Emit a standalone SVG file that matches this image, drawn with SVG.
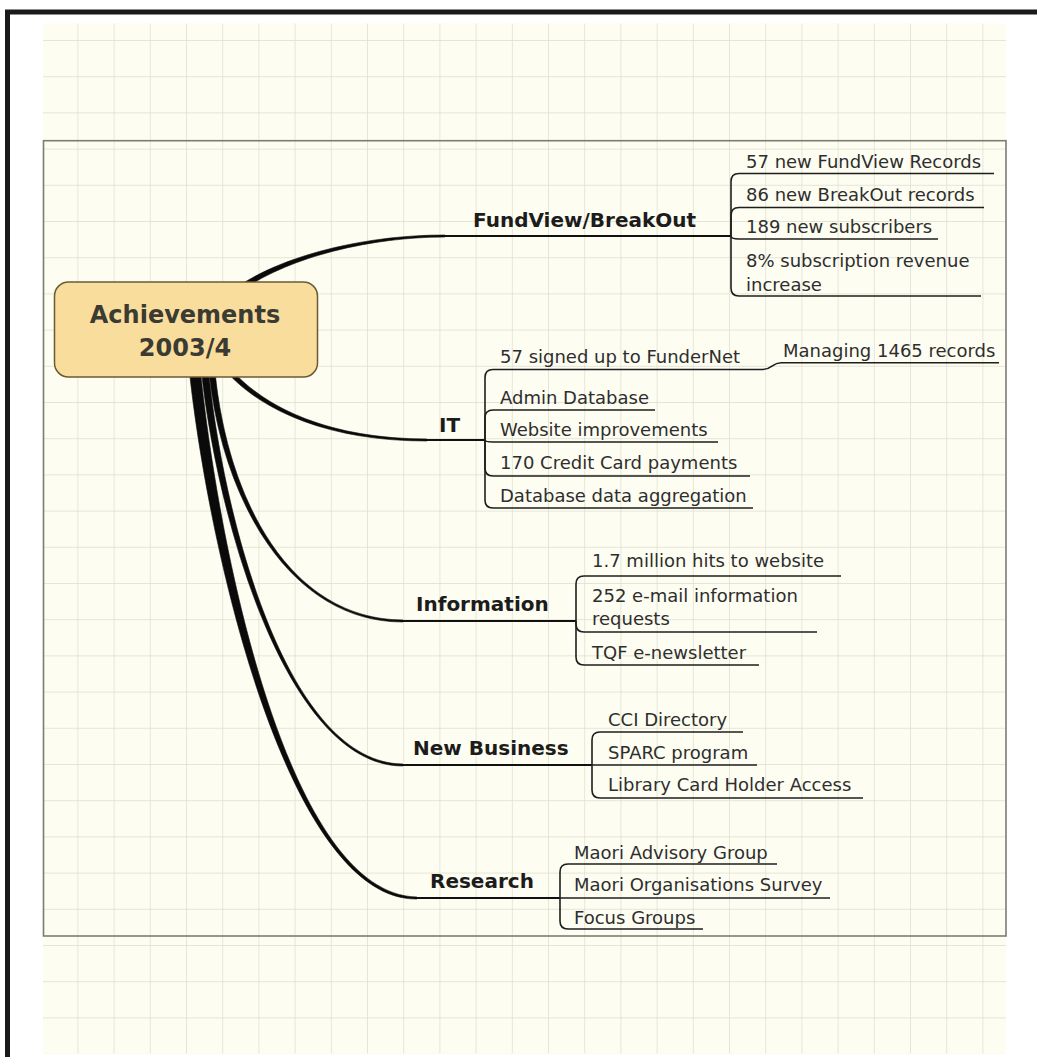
<svg xmlns="http://www.w3.org/2000/svg" width="1037" height="1057" viewBox="0 0 1037 1057">
<defs>
<pattern id="grid" patternUnits="userSpaceOnUse" x="41.2" y="40" width="36.2" height="36.2">
<rect width="36.2" height="36.2" fill="#fdfdf1"/>
<path d="M0,0 H36.2 M0,0 V36.2" stroke="#dedecf" stroke-width="1.4" fill="none"/>
</pattern>
</defs>
<style>
.sub{font-family:"DejaVu Sans","Liberation Sans",sans-serif;font-size:18px;fill:#2e2e2e}
.lab{font-family:"DejaVu Sans","Liberation Sans",sans-serif;font-size:20px;font-weight:bold;fill:#1c1c1c}
.ctr{font-family:"DejaVu Sans","Liberation Sans",sans-serif;font-size:24px;font-weight:bold;fill:#3b3a33;text-anchor:middle}
.ln{fill:none;stroke:#1e1e1e;stroke-width:1.6}
.lb{fill:none;stroke:#111;stroke-width:2}
.br{fill:#0a0a0a;stroke:#0a0a0a;stroke-width:0.6}
</style>
<rect width="1037" height="1057" fill="#ffffff"/>
<rect x="43" y="23.5" width="963" height="1030" fill="url(#grid)"/>
<rect x="43.5" y="140.7" width="962.5" height="795.3" fill="none" stroke="#7c7c72" stroke-width="1.6"/>
<path d="M5,12 H1037 M7.5,10 V1057" stroke="#1a1a1a" stroke-width="5" fill="none"/>

<g id="connectors">
<path class="br" d="M243.5,289.2 C291.1,256.7 370,237.2 445,237 L445,235 C370,234.8 288.9,253.3 240.5,284.8 Z"/>
<path class="br" d="M228.3,373.8 C263.6,411.4 330,441.2 427,441 L427,439 C330,438.8 266.4,408.6 231.7,370.2 Z"/>
<path class="br" d="M209,372.3 C222.5,500.3 290,622.3 403,622 L403,620 C290,619.7 227.5,499.7 215,371.7 Z"/>
<path class="br" d="M201.5,372.4 C219,530.3 290,766.5 403,766 L403,764 C290,763.5 225,529.7 208.5,371.6 Z"/>
<path class="br" d="M189.5,372.5 C210,560.5 290,901 417,899 L417,897 C290,895 220,559.5 200.5,371.5 Z"/>

<path class="lb" d="M445,236 H731"/>
<path class="ln" d="M731,236 V181.5 Q731,173.5 739,173.5 H994"/>
<path class="ln" d="M731,236 V215.5 Q731,207.5 739,207.5 H984"/>
<path class="ln" d="M731,236 Q731,239 739,239 H938"/>
<path class="ln" d="M731,236 V288 Q731,296 739,296 H981"/>

<path class="lb" d="M427,440 H485"/>
<path class="ln" d="M485,440 V377.5 Q485,369.5 493,369.5 H763 C772,369.5 772,362.7 781,362.7 H999"/>
<path class="ln" d="M485,440 V418 Q485,410 493,410 H655"/>
<path class="ln" d="M485,440 Q485,442 493,442 H718"/>
<path class="ln" d="M485,440 V468 Q485,476 493,476 H750"/>
<path class="ln" d="M485,440 V500 Q485,508 493,508 H753"/>

<path class="lb" d="M403,621 H576"/>
<path class="ln" d="M576,621 V584 Q576,576 584,576 H841"/>
<path class="ln" d="M576,621 V624 Q576,632 584,632 H817"/>
<path class="ln" d="M576,621 V657 Q576,665 584,665 H759"/>

<path class="lb" d="M403,765 H592"/>
<path class="ln" d="M592,765 V740 Q592,732 600,732 H743"/>
<path class="ln" d="M592,765 H757"/>
<path class="ln" d="M592,765 V790 Q592,798 600,798 H863"/>

<path class="lb" d="M417,898 H560"/>
<path class="ln" d="M560,898 V872 Q560,864 568,864 H777"/>
<path class="ln" d="M560,898 H830"/>
<path class="ln" d="M560,898 V921 Q560,929 568,929 H703"/>
</g>

<g id="node-center">
<rect x="54.5" y="282" width="263" height="95" rx="14" fill="#f9dd9c" stroke="#6b5a35" stroke-width="1.5"/>
<text class="ctr" x="185" y="323">Achievements</text>
<text class="ctr" x="185" y="356">2003/4</text>
</g>

<g id="node-fundview"><text class="lab" x="473" y="227">FundView/BreakOut</text></g>
<g id="node-fv1"><text class="sub" x="746" y="168">57 new FundView Records</text></g>
<g id="node-fv2"><text class="sub" x="746" y="201">86 new BreakOut records</text></g>
<g id="node-fv3"><text class="sub" x="746" y="233">189 new subscribers</text></g>
<g id="node-fv4"><text class="sub" x="746" y="267">8% subscription revenue</text><text class="sub" x="746" y="291">increase</text></g>

<g id="node-it"><text class="lab" x="439" y="432">IT</text></g>
<g id="node-it1"><text class="sub" x="500" y="363">57 signed up to FunderNet</text></g>
<g id="node-it1a"><text class="sub" x="783" y="357">Managing 1465 records</text></g>
<g id="node-it2"><text class="sub" x="500" y="403.5">Admin Database</text></g>
<g id="node-it3"><text class="sub" x="500" y="435.5">Website improvements</text></g>
<g id="node-it4"><text class="sub" x="500" y="468.5">170 Credit Card payments</text></g>
<g id="node-it5"><text class="sub" x="500" y="502">Database data aggregation</text></g>

<g id="node-info"><text class="lab" x="416" y="611">Information</text></g>
<g id="node-in1"><text class="sub" x="592" y="567">1.7 million hits to website</text></g>
<g id="node-in2"><text class="sub" x="592" y="602">252 e-mail information</text><text class="sub" x="592" y="625">requests</text></g>
<g id="node-in3"><text class="sub" x="592" y="658.5">TQF e-newsletter</text></g>

<g id="node-newbus"><text class="lab" x="413" y="755">New Business</text></g>
<g id="node-nb1"><text class="sub" x="608" y="726">CCI Directory</text></g>
<g id="node-nb2"><text class="sub" x="608" y="759">SPARC program</text></g>
<g id="node-nb3"><text class="sub" x="608" y="791">Library Card Holder Access</text></g>

<g id="node-research"><text class="lab" x="430" y="888">Research</text></g>
<g id="node-rs1"><text class="sub" x="574" y="858.5">Maori Advisory Group</text></g>
<g id="node-rs2"><text class="sub" x="574" y="891">Maori Organisations Survey</text></g>
<g id="node-rs3"><text class="sub" x="574" y="923.5">Focus Groups</text></g>
</svg>
